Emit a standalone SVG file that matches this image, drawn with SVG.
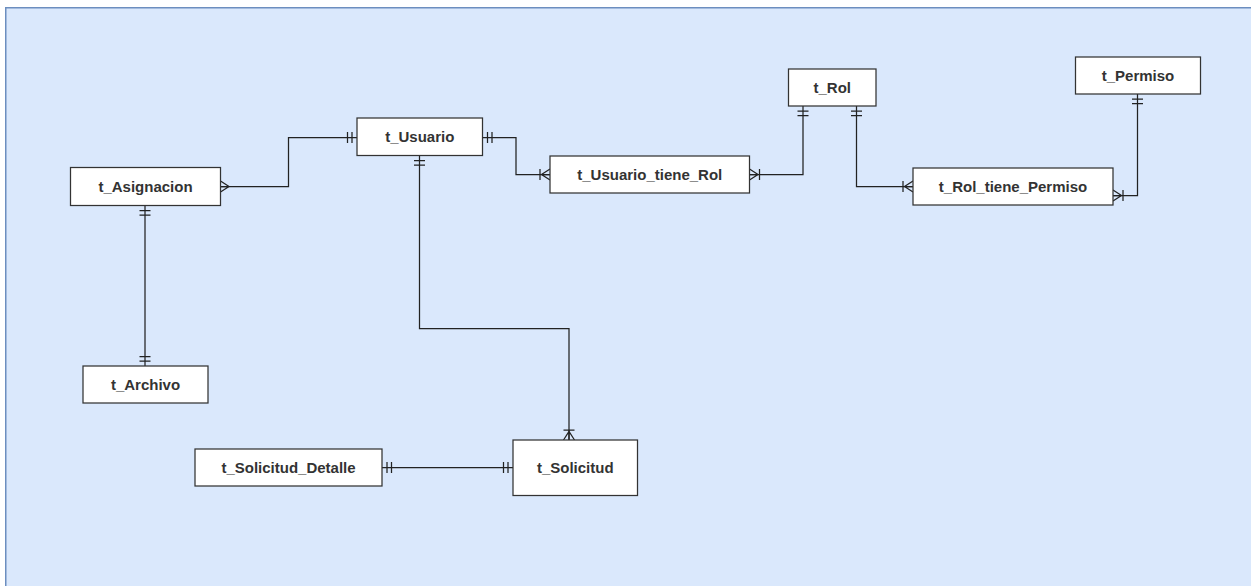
<svg xmlns="http://www.w3.org/2000/svg" width="1251" height="586" viewBox="0 0 1251 586">
<style>
.bg{fill:#dae8fc;stroke:#6c8ebf;stroke-width:1.5}
.box{fill:#ffffff;stroke:#333333;stroke-width:1.25}
.lbl{font-family:"Liberation Sans",Arial,sans-serif;font-size:15px;font-weight:bold;fill:#333333;text-anchor:middle;dominant-baseline:central}
.con{fill:none;stroke:#222222;stroke-width:1.25}
.mk{fill:none;stroke:#222222;stroke-width:1.25}
</style>
<defs>
<marker id="one" viewBox="-14 -8 16 16" refX="0" refY="0" markerWidth="16" markerHeight="16" markerUnits="userSpaceOnUse" orient="auto-start-reverse" overflow="visible">
<path class="mk" d="M-5,-5.5V5.5M-9.5,-5.5V5.5"/>
</marker>
<marker id="many" viewBox="-14 -8 16 16" refX="0" refY="0" markerWidth="16" markerHeight="16" markerUnits="userSpaceOnUse" orient="auto-start-reverse" overflow="visible">
<path class="mk" d="M0,-5.5L-8.5,0L0,5.5M-8.5,0H0"/>
</marker>
<marker id="onemany" viewBox="-14 -8 16 16" refX="0" refY="0" markerWidth="16" markerHeight="16" markerUnits="userSpaceOnUse" orient="auto-start-reverse" overflow="visible">
<path class="mk" d="M0,-5.5L-8.5,0L0,5.5M-8.5,0H0M-10,-5.5V5.5"/>
</marker>
</defs>
<rect class="bg" x="5.75" y="7.75" width="1260" height="590"/>
<g id="connectors">
<path class="con" d="M357,137.5H288.5V186.5H220.5" marker-start="url(#one)" marker-end="url(#many)"/>
<path class="con" d="M482.5,137.5H516V174.5H550" marker-start="url(#one)" marker-end="url(#onemany)"/>
<path class="con" d="M803,106V174.5H749.5" marker-start="url(#one)" marker-end="url(#onemany)"/>
<path class="con" d="M856.5,106V186.5H913" marker-start="url(#one)" marker-end="url(#onemany)"/>
<path class="con" d="M1137.5,94V195.5H1113" marker-start="url(#one)" marker-end="url(#onemany)"/>
<path class="con" d="M145,205.5V366" marker-start="url(#one)" marker-end="url(#one)"/>
<path class="con" d="M419.5,155.5V328.5H569V440" marker-start="url(#one)" marker-end="url(#onemany)"/>
<path class="con" d="M382,467.5H513" marker-start="url(#one)" marker-end="url(#one)"/>
</g>
<g id="t_Asignacion"><rect class="box" x="70.5" y="167.5" width="150" height="38"/><text class="lbl" x="145.5" y="186.5">t_Asignacion</text></g>
<g id="t_Usuario"><rect class="box" x="357" y="118" width="125.5" height="37.5"/><text class="lbl" x="419.75" y="136.75">t_Usuario</text></g>
<g id="t_Usuario_tiene_Rol"><rect class="box" x="550" y="156" width="199.5" height="37"/><text class="lbl" x="649.75" y="174.5">t_Usuario_tiene_Rol</text></g>
<g id="t_Rol"><rect class="box" x="788.5" y="69" width="87.5" height="37"/><text class="lbl" x="832.25" y="87.5">t_Rol</text></g>
<g id="t_Rol_tiene_Permiso"><rect class="box" x="913" y="168" width="200" height="37"/><text class="lbl" x="1013" y="186.5">t_Rol_tiene_Permiso</text></g>
<g id="t_Permiso"><rect class="box" x="1075.5" y="57" width="125" height="37"/><text class="lbl" x="1138" y="75.5">t_Permiso</text></g>
<g id="t_Archivo"><rect class="box" x="83" y="366" width="125" height="37"/><text class="lbl" x="145.5" y="384.5">t_Archivo</text></g>
<g id="t_Solicitud_Detalle"><rect class="box" x="195" y="449" width="187" height="37"/><text class="lbl" x="288.5" y="467.5">t_Solicitud_Detalle</text></g>
<g id="t_Solicitud"><rect class="box" x="513" y="440" width="124.5" height="55.5"/><text class="lbl" x="575.25" y="467.75">t_Solicitud</text></g>
</svg>
